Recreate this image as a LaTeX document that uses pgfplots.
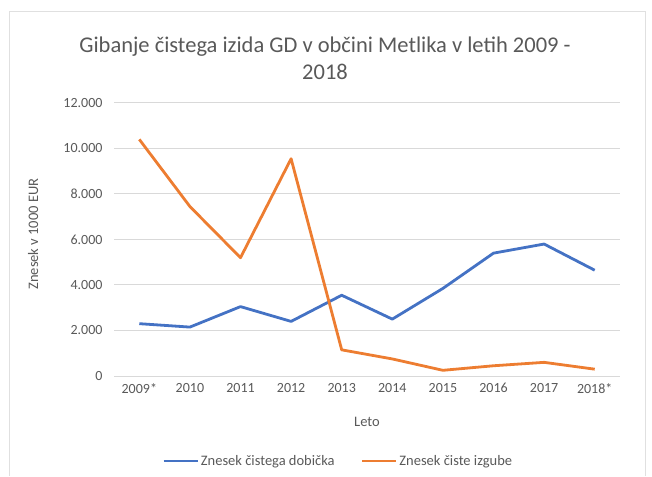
\documentclass[border=0pt]{standalone}
\usepackage{pgfplots}
\pgfplotsset{compat=1.18}
\usepackage{fontspec}
\setmainfont{Carlito}
\definecolor{cblue}{HTML}{4472C4}
\definecolor{corange}{HTML}{ED7D31}
\definecolor{ctext}{HTML}{595959}
\definecolor{cgrid}{HTML}{D9D9D9}
\begin{document}
\begin{tikzpicture}[x=1pt,y=1pt]
\path[use as bounding box] (0,0) rectangle (652,476);
\draw[color=black!12, line width=1pt] (9,0) -- (9,464) -- (645,464) -- (645,0);
\node[text=ctext, font=\fontsize{22.5}{27}\selectfont, align=center] at (325,418) {Gibanje čistega izida GD v občini Metlika v letih 2009 -\\2018};
\begin{axis}[
  at={(114pt,100pt)}, anchor=south west,
  scale only axis, width=506pt, height=273pt,
  xmin=-0.5, xmax=9.5, ymin=0, ymax=12000,
  xtick={0,...,9},
  xticklabels={2009*,2010,2011,2012,2013,2014,2015,2016,2017,2018*},
  ytick={0,2000,...,12000},
  /pgf/number format/.cd, 1000 sep={.}, assume math mode=true,
  /pgfplots/.cd,
  scaled y ticks=false,
  axis line style={draw=none},
  tick style={draw=none},
  ymajorgrids, grid style={cgrid, line width=1pt},
  ticklabel style={text=ctext, font=\fontsize{14}{16}\selectfont},
  xticklabel style={yshift=-4pt},
  yticklabel style={xshift=-8pt},
  xlabel={Leto}, ylabel={Znesek v 1000 EUR},
  label style={text=ctext, font=\fontsize{14.5}{17}\selectfont},
  xlabel style={at={(rel axis cs:0.5,0)}, anchor=center, yshift=-46pt},
  ylabel style={at={(rel axis cs:-0.16,0.52)}, anchor=center},
  legend columns=2,
  legend style={at={(rel axis cs:0.443,-0.311)}, anchor=center, draw=none, fill=none,
    font=\fontsize{14.5}{17}\selectfont, text=ctext,
    /tikz/every even column/.append style={column sep=24pt}},
  legend image code/.code={\draw[#1] (0pt,0pt) -- (34pt,0pt);},
  every axis plot/.append style={line width=2.8pt, line join=round, mark=none},
]
\addplot[cblue] coordinates {(0,2300) (1,2150) (2,3050) (3,2400) (4,3550) (5,2500) (6,3850) (7,5400) (8,5800) (9,4650)};
\addlegendentry{Znesek čistega dobička}
\addplot[corange] coordinates {(0,10400) (1,7450) (2,5200) (3,9550) (4,1150) (5,750) (6,250) (7,450) (8,600) (9,300)};
\addlegendentry{Znesek čiste izgube}
\end{axis}
\end{tikzpicture}
\end{document}
